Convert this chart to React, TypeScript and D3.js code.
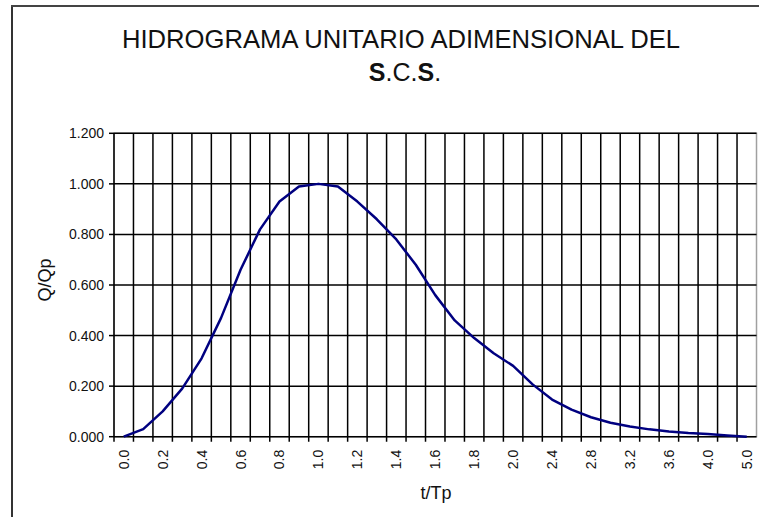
import React from "react";
import * as d3 from "d3";

const categories = [
  "0.0", "0.1", "0.2", "0.3", "0.4", "0.5", "0.6", "0.7", "0.8", "0.9",
  "1.0", "1.1", "1.2", "1.3", "1.4", "1.5", "1.6", "1.7", "1.8", "1.9",
  "2.0", "2.2", "2.4", "2.6", "2.8", "3.0", "3.2", "3.4", "3.6", "3.8",
  "4.0", "4.5", "5.0",
];
const qValues = [
  0.0, 0.03, 0.1, 0.19, 0.31, 0.47, 0.66, 0.82, 0.93, 0.99,
  1.0, 0.99, 0.93, 0.86, 0.78, 0.68, 0.56, 0.46, 0.39, 0.33,
  0.28, 0.207, 0.147, 0.107, 0.077, 0.055, 0.04, 0.029, 0.021, 0.015,
  0.011, 0.005, 0.0,
];
const yTicks = [0, 0.2, 0.4, 0.6, 0.8, 1.0, 1.2];
const titleLine1 = "HIDROGRAMA UNITARIO ADIMENSIONAL DEL";
const titleLine2 = "S.C.S.";
const xTitle = "t/Tp";
const yTitle = "Q/Qp";

const W = 759;
const H = 517;
const plot = { left: 114, right: 756.5, top: 133.3, bottom: 436.7 };
const FONT = "'Liberation Sans', Arial, sans-serif";

export default function App() {
  const x = d3
    .scaleBand<string>()
    .domain(categories)
    .range([plot.left, plot.right])
    .padding(0);
  const y = d3.scaleLinear().domain([0, 1.2]).range([plot.bottom, plot.top]);
  const bw = x.bandwidth();

  const line = d3
    .line<number>()
    .x((_, i) => (x(categories[i]) as number) + bw / 2)
    .y((d) => y(d))
    .curve(d3.curveLinear);

  const boundaries = categories.slice(1).map((c) => x(c) as number);

  return (
    <svg
      width={W}
      height={H}
      style={{ position: "absolute", left: 0, top: 0, background: "#fff" }}
      fontFamily={FONT}
    >
      <rect x={0} y={0} width={W} height={H} fill="#fff" />
      {/* outer frame (cut at right/bottom) */}
      <line x1={12} x2={12} y1={6} y2={H + 2} stroke="#333" strokeWidth={2} />
      <line x1={11} x2={W + 2} y1={6} y2={6} stroke="#444" strokeWidth={2} />

      {/* title */}
      <text
        x={401}
        y={48}
        textAnchor="middle"
        fontSize={26}
        fill="#111"
        textLength={558}
        lengthAdjust="spacingAndGlyphs"
      >
        {titleLine1}
      </text>
      <text x={405} y={81} textAnchor="middle" fontSize={25} fill="#111">
        {titleLine2.split("").map((ch, i) => (
          <tspan key={i} fontWeight={ch === "S" ? "bold" : "normal"}>
            {ch}
          </tspan>
        ))}
      </text>

      {/* plot border */}
      <rect
        x={plot.left}
        y={plot.top}
        width={plot.right - plot.left}
        height={plot.bottom - plot.top}
        fill="none"
        stroke="#a0a0a0"
        strokeWidth={1.5}
      />

      {/* horizontal gridlines */}
      {yTicks.slice(1).map((t) => (
        <line
          key={"h" + t}
          x1={plot.left}
          x2={plot.right}
          y1={y(t)}
          y2={y(t)}
          stroke="#000"
          strokeWidth={1.5}
        />
      ))}
      {/* vertical gridlines */}
      {boundaries.map((b, i) => (
        <line
          key={"v" + i}
          x1={b}
          x2={b}
          y1={plot.top}
          y2={plot.bottom + 5}
          stroke="#000"
          strokeWidth={1.5}
        />
      ))}

      {/* axes */}
      <line x1={plot.left} x2={plot.left} y1={plot.top} y2={plot.bottom} stroke="#000" strokeWidth={1.5} />
      <line x1={plot.left} x2={plot.right} y1={plot.bottom} y2={plot.bottom} stroke="#000" strokeWidth={1.5} />
      {yTicks.map((t) => (
        <line key={"yt" + t} x1={plot.left - 5} x2={plot.left} y1={y(t)} y2={y(t)} stroke="#000" strokeWidth={1.5} />
      ))}
      <line x1={plot.left} x2={plot.left} y1={plot.bottom} y2={plot.bottom + 5} stroke="#000" strokeWidth={1.5} />

      {/* y tick labels */}
      {yTicks.map((t) => (
        <text
          key={"yl" + t}
          x={104}
          y={y(t)}
          textAnchor="end"
          dominantBaseline="central"
          fontSize={14}
          fill="#111"
        >
          {t.toFixed(3)}
        </text>
      ))}

      {/* x tick labels */}
      {categories.map((c, i) =>
        i % 2 === 0 ? (
          <text
            key={"xl" + c}
            transform={`translate(${(x(c) as number) + bw / 2},${plot.bottom + 13}) rotate(-90)`}
            textAnchor="end"
            dominantBaseline="central"
            fontSize={14}
            fill="#111"
          >
            {c}
          </text>
        ) : null
      )}

      {/* axis titles */}
      <text x={436} y={499} textAnchor="middle" fontSize={18} fill="#111">
        {xTitle}
      </text>
      <text
        transform={`translate(45,280) rotate(-90)`}
        textAnchor="middle"
        dominantBaseline="central"
        fontSize={18}
        fill="#111"
      >
        {yTitle}
      </text>

      {/* series */}
      <path d={line(qValues) || ""} fill="none" stroke="#000080" strokeWidth={2.5} strokeLinejoin="round" />
    </svg>
  );
}
